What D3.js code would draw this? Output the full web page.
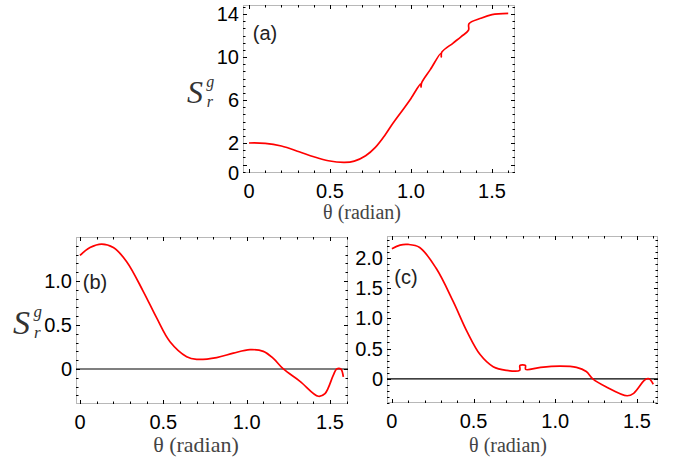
<!DOCTYPE html>
<html>
<head>
<meta charset="utf-8">
<script src="https://cdn.jsdelivr.net/npm/d3@7"></script>
<style>
  body { margin: 0; background: #fff; }
  .tick-label { font-family: "Liberation Sans", Arial, sans-serif; font-size: 20px; fill: #000; }
  .panel-label { font-family: "Liberation Sans", Arial, sans-serif; font-size: 20px; fill: #222; }
  .axis-title { font-family: "Liberation Serif", "Times New Roman", serif; fill: #444; }
  .s-label { font-family: "Liberation Serif", "Times New Roman", serif; font-style: italic; fill: #333; }
</style>
</head>
<body>
<svg width="674" height="461"></svg>
<script>
// panel (a)
let thetaA = [0, 0.1, 0.2, 0.31, 0.4, 0.49, 0.59, 0.65, 0.72, 0.78, 0.84, 0.88, 0.95, 1.0, 1.06, 1.062, 1.066,
    1.12, 1.185, 1.187, 1.19, 1.26, 1.31, 1.355, 1.358, 1.43, 1.5, 1.6];
let valuesA = [2.0, 1.97, 1.72, 1.19, 0.72, 0.35, 0.2, 0.32, 0.82, 1.6, 2.75, 3.65, 5.1, 6.15, 7.5, 7.2, 7.6,
    8.85, 10.35, 10.0, 10.45, 11.3, 11.9, 12.5, 13.1, 13.6, 13.95, 14.07];

// panel (b)
let thetaB = [0, 0.06, 0.13, 0.2, 0.28, 0.38, 0.46, 0.54, 0.64, 0.7, 0.82, 0.92, 1.02, 1.1, 1.16,
    1.22, 1.32, 1.43, 1.47, 1.52, 1.54, 1.565, 1.58];
let valuesB = [1.29, 1.38, 1.42, 1.38, 1.22, 0.88, 0.58, 0.31, 0.14, 0.11, 0.13, 0.18, 0.22, 0.2, 0.12,
    0.0, -0.14, -0.31, -0.28, -0.07, 0.0, 0.0, -0.09];

// panel (c)
let thetaC = [0, 0.05, 0.1, 0.17, 0.27, 0.375, 0.46, 0.54, 0.62, 0.7, 0.782, 0.784, 0.817, 0.819, 0.91, 1.03,
    1.13, 1.19, 1.23, 1.31, 1.44, 1.48, 1.54, 1.56, 1.575, 1.6];
let valuesC = [2.15, 2.21, 2.22, 2.17, 1.83, 1.28, 0.78, 0.4, 0.2, 0.14, 0.14, 0.22, 0.22, 0.155, 0.19, 0.21,
    0.19, 0.12, 0.0, -0.13, -0.28, -0.24, -0.04, 0.0, 0.0, -0.09];

let xTicks = [0, 0.5, 1.0, 1.5];
let xTickLabels = ["0", "0.5", "1.0", "1.5"];
let yTicksA = [0, 2, 6, 10, 14];
let yTicksB = [0, 0.5, 1.0];
let yTicksC = [0, 0.5, 1.0, 1.5, 2.0];
let yTickLabelsA = ["0", "2", "6", "10", "14"];
let yTickLabelsB = ["0", "0.5", "1.0"];
let yTickLabelsC = ["0", "0.5", "1.0", "1.5", "2.0"];

let svg = d3.select('svg');

let panels = [
    { id: 'a', theta: thetaA, values: valuesA, yTicks: yTicksA, yLabels: yTickLabelsA,
      left: 243, top: 5, right: 515, bottom: 173,
      xDomain: [-0.037, 1.642], yDomain: [-0.79, 14.84], yMinorStep: 2 / 3,
      zeroLine: false, tag: [265, 33], title: [362, 219, 20], sLabel: [187, 103, 32] },
    { id: 'b', theta: thetaB, values: valuesB, yTicks: yTicksB, yLabels: yTickLabelsB,
      left: 76, top: 237, right: 348, bottom: 404,
      xDomain: [-0.024, 1.608], yDomain: [-0.398, 1.5], yMinorStep: 0.1,
      zeroLine: true, tag: [95, 282], title: [196, 452, 22], sLabel: [13, 334, 34] },
    { id: 'c', theta: thetaC, values: valuesC, yTicks: yTicksC, yLabels: yTickLabelsC,
      left: 387, top: 236, right: 658, bottom: 403,
      xDomain: [-0.03, 1.629], yDomain: [-0.40, 2.36], yMinorStep: 0.1,
      zeroLine: true, tag: [406, 277], title: [508, 452, 20], sLabel: null }
];

panels.forEach(p => drawPanel(p));

function drawPanel(p) {
    let xScale = d3.scaleLinear().domain(p.xDomain).range([p.left, p.right]);
    let yScale = d3.scaleLinear().domain(p.yDomain).range([p.bottom, p.top]);
    let yMin = p.yDomain[0], yMax = p.yDomain[1];

    let g = svg.append('g').attr('class', 'panel-' + p.id);

    g.append('clipPath').attr('id', 'clip-' + p.id)
        .append('rect')
        .attr('x', p.left).attr('y', p.top)
        .attr('width', p.right - p.left).attr('height', p.bottom - p.top);

    // frame
    g.append('rect')
        .attr('x', p.left + 0.5).attr('y', p.top + 0.5)
        .attr('width', p.right - p.left - 1).attr('height', p.bottom - p.top - 1)
        .style('fill', 'none')
        .style('stroke', '#b8b8b8')
        .style('stroke-width', 1);

    // x ticks (bottom and top, pointing in)
    let xMinor = d3.range(0, 1.61, 0.1).map(v => +v.toFixed(2));
    xMinor.forEach(v => {
        let major = xTicks.some(t => Math.abs(t - v) < 1e-6);
        let len = major ? 4 : 2.5;
        let x = Math.round(xScale(v)) + 0.5;
        g.append('line').attr('x1', x).attr('x2', x)
            .attr('y1', p.bottom).attr('y2', p.bottom - len)
            .style('stroke', '#000').style('stroke-width', 1);
        g.append('line').attr('x1', x).attr('x2', x)
            .attr('y1', p.top).attr('y2', p.top + len)
            .style('stroke', '#000').style('stroke-width', 1);
    });

    // y ticks (left and right)
    let yMinor = [];
    for (let v = Math.ceil(yMin / p.yMinorStep - 1e-6) * p.yMinorStep; v <= yMax; v += p.yMinorStep) {
        yMinor.push(v);
    }
    yMinor.forEach(v => {
        let y = Math.round(yScale(v)) + 0.5;
        g.append('line').attr('x1', p.left).attr('x2', p.left + 2.5)
            .attr('y1', y).attr('y2', y)
            .style('stroke', '#000').style('stroke-width', 1);
        g.append('line').attr('x1', p.right).attr('x2', p.right - 2.5)
            .attr('y1', y).attr('y2', y)
            .style('stroke', '#000').style('stroke-width', 1);
    });
    p.yTicks.forEach(v => {
        let y = Math.round(yScale(v)) + 0.5;
        g.append('line').attr('x1', p.left).attr('x2', p.left + 4)
            .attr('y1', y).attr('y2', y)
            .style('stroke', '#000').style('stroke-width', 1);
        g.append('line').attr('x1', p.right).attr('x2', p.right - 4)
            .attr('y1', y).attr('y2', y)
            .style('stroke', '#000').style('stroke-width', 1);
    });

    // tick labels
    g.selectAll('.xlab').data(xTicks).enter().append('text')
        .attr('class', 'tick-label')
        .attr('x', d => xScale(d))
        .attr('y', p.bottom + 25)
        .style('text-anchor', 'middle')
        .text((d, i) => xTickLabels[i]);

    // a label close to the frame bottom sits on the frame edge
    g.selectAll('.ylab').data(p.yTicks).enter().append('text')
        .attr('class', 'tick-label')
        .attr('x', p.left - 4)
        .attr('y', d => {
            let y = yScale(d);
            if (p.bottom - y < 10) y = p.bottom;
            return y + 7;
        })
        .style('text-anchor', 'end')
        .text((d, i) => p.yLabels[i]);

    // zero line
    if (p.zeroLine) {
        g.append('line')
            .attr('x1', p.left).attr('x2', p.right)
            .attr('y1', yScale(0)).attr('y2', yScale(0))
            .style('stroke', '#000').style('stroke-width', 1.2);
    }

    // curve
    let pts = p.theta.map((t, i) => [t, p.values[i]]);
    let line = d3.line()
        .x(d => xScale(d[0]))
        .y(d => yScale(d[1]))
        .curve(d3.curveCatmullRom.alpha(0.5));
    g.append('path')
        .datum(pts)
        .attr('clip-path', 'url(#clip-' + p.id + ')')
        .attr('d', line)
        .style('fill', 'none')
        .style('stroke', '#ff0000')
        .style('stroke-width', 1.7);

    // panel tag
    g.append('text')
        .attr('class', 'panel-label')
        .attr('x', p.tag[0]).attr('y', p.tag[1] + 7)
        .style('text-anchor', 'middle')
        .text('(' + p.id + ')');

    // x axis title
    g.append('text')
        .attr('class', 'axis-title')
        .attr('x', p.title[0]).attr('y', p.title[1])
        .style('font-size', p.title[2] + 'px')
        .style('text-anchor', 'middle')
        .text('θ (radian)');

    // y label S_r^g
    if (p.sLabel) {
        let s = p.sLabel;
        let lab = g.append('g');
        lab.append('text').attr('class', 's-label')
            .attr('x', s[0]).attr('y', s[1])
            .style('font-size', s[2] + 'px')
            .text('S');
        lab.append('text').attr('class', 's-label')
            .attr('x', s[0] + s[2] * 0.6).attr('y', s[1] - s[2] * 0.5)
            .style('font-size', (s[2] * 0.5) + 'px')
            .text('g');
        lab.append('text').attr('class', 's-label')
            .attr('x', s[0] + s[2] * 0.62).attr('y', s[1] + s[2] * 0.12)
            .style('font-size', (s[2] * 0.5) + 'px')
            .text('r');
    }
}
</script>
</body>
</html>
